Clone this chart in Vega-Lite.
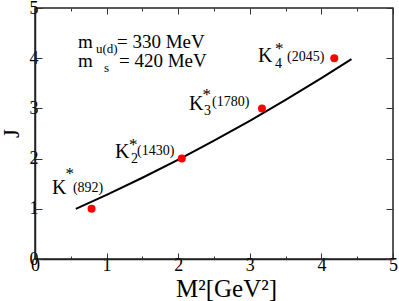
{
  "$schema": "https://vega.github.io/schema/vega-lite/v6.json",
  "width": 358,
  "height": 251,
  "autosize": "none",
  "padding": {"left": 35, "top": 8, "right": 6, "bottom": 42},
  "background": "white",
  "config": {
    "view": {"stroke": "#222222", "strokeWidth": 1.5},
    "font": "Liberation Serif",
    "text": {"font": "Liberation Serif"},
    "axis": {"labelFont": "Liberation Serif", "titleFont": "Liberation Serif", "grid": false, "domainColor": "#222222", "domainWidth": 1.5, "tickColor": "#333333", "tickWidth": 1, "labelColor": "black", "titleColor": "black", "labelFontSize": 18, "titleFontWeight": "normal"}
  },
  "datasets": {
    "points": [
      {"M2": 0.79, "J": 1},
      {"M2": 2.05, "J": 2},
      {"M2": 3.17, "J": 3},
      {"M2": 4.18, "J": 4}
    ],
    "fit": [
      {"M2": 0.57, "J": 1.0},
      {"M2": 1.0, "J": 1.278},
      {"M2": 1.5, "J": 1.619},
      {"M2": 2.03, "J": 2.0},
      {"M2": 2.5, "J": 2.356},
      {"M2": 3.0, "J": 2.752},
      {"M2": 3.5, "J": 3.168},
      {"M2": 4.0, "J": 3.602},
      {"M2": 4.42, "J": 3.98}
    ],
    "kmain": [
      {"x": 0.237, "y": 1.3, "t": "K"},
      {"x": 1.117, "y": 2.012, "t": "K"},
      {"x": 2.151, "y": 2.968, "t": "K"},
      {"x": 3.115, "y": 3.924, "t": "K"}
    ],
    "stars": [
      {"x": 0.485, "y": 1.753, "t": "*"},
      {"x": 1.372, "y": 2.321, "t": "*"},
      {"x": 2.398, "y": 3.317, "t": "*"},
      {"x": 3.411, "y": 4.243, "t": "*"}
    ],
    "small": [
      {"x": 0.53, "y": 1.34, "t": "(892)"},
      {"x": 1.341, "y": 1.912, "t": "2"},
      {"x": 1.425, "y": 2.072, "t": "(1430)"},
      {"x": 2.36, "y": 2.869, "t": "3"},
      {"x": 2.472, "y": 3.048, "t": "(1780)"},
      {"x": 3.352, "y": 3.805, "t": "4"},
      {"x": 3.52, "y": 3.944, "t": "(2045)"}
    ],
    "notes": [
      {"x": 0.601, "y": 4.203, "t": "m"},
      {"x": 1.145, "y": 4.203, "t": "= 330 MeV"},
      {"x": 0.601, "y": 3.825, "t": "m"},
      {"x": 1.173, "y": 3.825, "t": "= 420 MeV"}
    ],
    "notesub": [
      {"x": 0.852, "y": 4.104, "t": "u(d)"},
      {"x": 0.964, "y": 3.735, "t": "s"}
    ]
  },
  "resolve": {"axis": {"x": "independent", "y": "independent"}},
  "layer": [
    {
      "data": {"name": "fit"},
      "mark": {"type": "line", "color": "black", "strokeWidth": 2},
      "encoding": {
        "x": {"field": "M2", "type": "quantitative", "scale": {"domain": [0, 5], "nice": false},
          "axis": {"orient": "bottom", "values": [0, 0.5, 1, 1.5, 2, 2.5, 3, 3.5, 4, 4.5, 5], "labelExpr": "datum.value % 1 === 0 ? format(datum.value, 'd') : ''", "labelOverlap": false, "labelFlush": false, "labelBound": false, "tickSize": {"condition": {"test": "datum.value % 1 === 0", "value": -6}, "value": -3}, "labelPadding": 3, "title": "M²[GeV²]", "titleFontSize": 25, "titleX": 191, "titleY": 37, "titleBaseline": "alphabetic", "titleAnchor": "middle", "titleAlign": "center"}},
        "y": {"field": "J", "type": "quantitative", "scale": {"domain": [0, 5], "nice": false},
          "axis": {"orient": "left", "values": [0, 1, 2, 3, 4, 5], "labelOverlap": false, "labelFlush": false, "labelBound": false, "tickSize": -7, "labelPadding": 4, "title": "J", "titleFontSize": 23, "titleX": -17, "titleY": 125, "titleBaseline": "alphabetic", "titleAngle": -90, "titleAlign": "center"}}
      }
    },
    {
      "data": {"name": "points"},
      "mark": {"type": "point", "filled": true, "color": "#ff0000", "size": 64, "opacity": 1},
      "encoding": {
        "x": {"field": "M2", "type": "quantitative",
          "axis": {"orient": "top", "values": [0, 0.5, 1, 1.5, 2, 2.5, 3, 3.5, 4, 4.5, 5], "labels": false, "title": null, "domain": false, "tickSize": {"condition": {"test": "datum.value % 1 === 0", "value": -6}, "value": -3}}},
        "y": {"field": "J", "type": "quantitative",
          "axis": {"orient": "right", "values": [0, 1, 2, 3, 4, 5], "labels": false, "title": null, "domain": false, "tickSize": -7}}
      }
    },
    {
      "data": {"name": "kmain"},
      "mark": {"type": "text", "font": "Liberation Serif", "fontSize": 20, "align": "left", "baseline": "alphabetic", "color": "black"},
      "encoding": {"x": {"field": "x", "type": "quantitative", "axis": null}, "y": {"field": "y", "type": "quantitative", "axis": null}, "text": {"field": "t"}}
    },
    {
      "data": {"name": "stars"},
      "mark": {"type": "text", "font": "Liberation Serif", "fontSize": 17, "align": "center", "baseline": "middle", "dy": 3, "color": "black"},
      "encoding": {"x": {"field": "x", "type": "quantitative", "axis": null}, "y": {"field": "y", "type": "quantitative", "axis": null}, "text": {"field": "t"}}
    },
    {
      "data": {"name": "small"},
      "mark": {"type": "text", "font": "Liberation Serif", "fontSize": 14, "align": "left", "baseline": "alphabetic", "color": "black"},
      "encoding": {"x": {"field": "x", "type": "quantitative", "axis": null}, "y": {"field": "y", "type": "quantitative", "axis": null}, "text": {"field": "t"}}
    },
    {
      "data": {"name": "notes"},
      "mark": {"type": "text", "font": "Liberation Serif", "fontSize": 19, "align": "left", "baseline": "alphabetic", "color": "black"},
      "encoding": {"x": {"field": "x", "type": "quantitative", "axis": null}, "y": {"field": "y", "type": "quantitative", "axis": null}, "text": {"field": "t"}}
    },
    {
      "data": {"name": "notesub"},
      "mark": {"type": "text", "font": "Liberation Serif", "fontSize": 13, "align": "left", "baseline": "alphabetic", "color": "black"},
      "encoding": {"x": {"field": "x", "type": "quantitative", "axis": null}, "y": {"field": "y", "type": "quantitative", "axis": null}, "text": {"field": "t"}}
    }
  ]
}
